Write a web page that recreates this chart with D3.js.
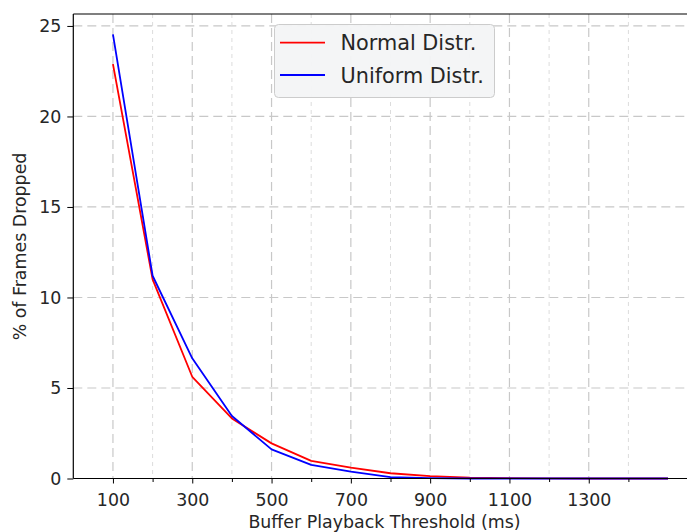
<!DOCTYPE html>
<html><head><meta charset="utf-8">
<script src="https://cdn.jsdelivr.net/npm/d3@7"></script>
<style>body{margin:0;background:#fff}svg{display:block}text{font-family:"DejaVu Sans",sans-serif;fill:#262626}</style>
</head><body><svg id="c" width="687" height="532"></svg>
<script>
const thresholds = [100,200,300,400,500,600,700,800,900,1000,1100,1200,1300,1400,1500];
const normalDistr = [22.89,11.0,5.62,3.32,1.94,0.97,0.6,0.29,0.13,0.05,0.02,0.01,0,0,0];
const uniformDistr = [24.54,11.2,6.64,3.45,1.61,0.75,0.38,0.08,0.02,0,0,0,0,0,0];
const seriesNames = ["Normal Distr.","Uniform Distr."];
const seriesColors = ["#ff0000","#0000ff"];
const xMajorTicks = [100,300,500,700,900,1100,1300];
const xMinorTicks = [200,400,600,800,1000,1200,1400];
const yTicks = [0,5,10,15,20,25];

const svg = d3.select("#c");
const L = 73.3, T = 14, B = 478.5;
const pxPerMs = 0.3965;
const x = d3.scaleLinear().domain([0,1650]).range([L, L+1650*pxPerMs]);
const y = d3.scaleLinear().domain([0,25.66]).range([B, T]);
const R = 700;
const FS = "17.4px";

// grid
const g = svg.append("g");
g.selectAll(".hg").data(yTicks.slice(1)).join("line")
  .attr("x1",L).attr("x2",R).attr("y1",d=>y(d)).attr("y2",d=>y(d))
  .attr("stroke","#c8c8c8").attr("stroke-width",1.2).attr("stroke-dasharray","9,5");
g.selectAll(".vg").data(xMajorTicks).join("line")
  .attr("x1",d=>x(d)).attr("x2",d=>x(d)).attr("y1",T).attr("y2",B)
  .attr("stroke","#c8c8c8").attr("stroke-width",1.2).attr("stroke-dasharray","9,5");
g.selectAll(".vm").data(xMinorTicks).join("line")
  .attr("x1",d=>x(d)).attr("x2",d=>x(d)).attr("y1",T).attr("y2",B)
  .attr("stroke","#dcdcdc").attr("stroke-width",1).attr("stroke-dasharray","4,4");

// lines
const line = d3.line().x((d,i)=>x(thresholds[i])).y(d=>y(d));
[normalDistr, uniformDistr].forEach((s,k)=>{
  svg.append("path").datum(s).attr("d",line).attr("fill","none")
    .attr("stroke",seriesColors[k]).attr("stroke-width",1.8).attr("stroke-linejoin","round");
});

// axes
const xAx = svg.append("g").attr("transform",`translate(0,${B})`)
  .call(d3.axisBottom(x).tickValues(xMajorTicks).tickFormat(d3.format("d")).tickSize(5).tickPadding(10));
svg.append("g").attr("transform",`translate(0,${B})`)
  .call(d3.axisBottom(x).tickValues(xMinorTicks).tickFormat("").tickSize(3.5)).call(a=>a.select(".domain").remove())
  .selectAll("line").attr("stroke","#000");
const yAx = svg.append("g").attr("transform",`translate(${L},0)`)
  .call(d3.axisLeft(y).tickValues(yTicks).tickSize(6).tickPadding(6));
[xAx,yAx].forEach(a=>{a.selectAll("text").style("font-size",FS).attr("fill","#262626").style("font-family","DejaVu Sans");
  a.selectAll("line").attr("stroke","#000");});
xAx.select(".domain").attr("d",`M${L},0H${R}`).attr("stroke","#000").attr("stroke-width",1.2);
yAx.select(".domain").attr("d",`M0,${B}V${T}`).attr("stroke","#000").attr("stroke-width",1.2);
svg.append("line").attr("x1",L).attr("x2",R).attr("y1",T).attr("y2",T).attr("stroke","#000").attr("stroke-width",1.2);

// labels
svg.append("text").attr("x",384.5).attr("y",528).attr("text-anchor","middle").style("font-size",FS).text("Buffer Playback Threshold (ms)");
svg.append("text").attr("transform","translate(26,246.5) rotate(-90)").attr("text-anchor","middle").style("font-size",FS).text("% of Frames Dropped");

// legend
const lg = svg.append("g");
lg.append("rect").attr("x",274.5).attr("y",24.5).attr("width",220).attr("height",73).attr("rx",4)
  .attr("fill","#f3f4f6").attr("fill-opacity",0.95).attr("stroke","#cccccc");
seriesNames.forEach((n,i)=>{
  const yy = 42.7 + i*32.3;
  lg.append("line").attr("x1",280).attr("x2",325).attr("y1",yy).attr("y2",yy).attr("stroke",seriesColors[i]).attr("stroke-width",1.8);
  lg.append("text").attr("x",340.5).attr("y",yy+7.5).style("font-size","20.8px").text(n);
});
</script></body></html>
